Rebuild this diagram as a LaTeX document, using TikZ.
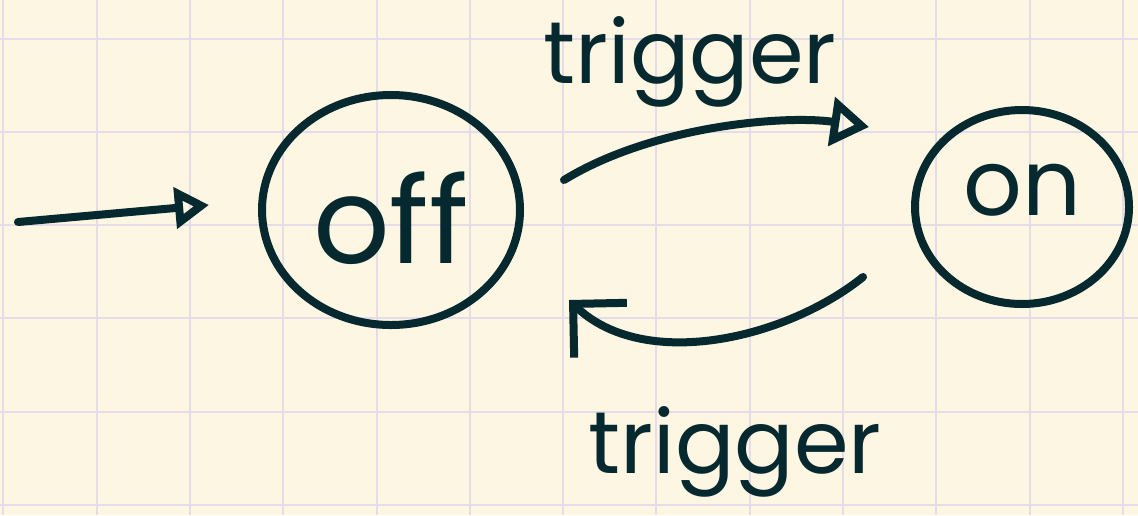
\documentclass[tikz,border=0pt]{standalone}
\usepackage{xcolor}
\usepackage{fontspec}
\setmainfont{Poppins}
\definecolor{paperBg}{HTML}{FDF6E3}
\definecolor{paperGrid}{HTML}{E4DCE8}
\definecolor{inkDark}{HTML}{05292F}
\usetikzlibrary{arrows.meta,shapes.geometric}
\tikzset{
  ink/.style={draw=inkDark, line width=4pt, line cap=round, line join=round},
  state/.style={ink, ellipse, inner sep=0pt, text=inkDark},
  hand/.style={text=inkDark, font=\fontsize{44}{48}\selectfont},
}

\begin{document}
\begin{tikzpicture}[x=0.5pt, y=-0.5pt]
  \fill[paperBg] (0,0) rectangle (1138,515);
  \useasboundingbox (0,0) rectangle (1138,515);
  % grid paper
  \foreach \gx in {0,...,12}
    \draw[paperGrid, line width=1pt] ({3.3+93.3*\gx},0) -- ({3.3+93.3*\gx},515);
  \foreach \gy in {0,...,5}
    \draw[paperGrid, line width=1pt] (0,{38.5+93.3*\gy}) -- (1138,{38.5+93.3*\gy});
  % states
  \node[state, minimum width=129pt, minimum height=115pt, text height=54pt, font=\fontsize{60}{64}\selectfont] (off) at (391,210) {off};
  \node[state, minimum width=107pt, minimum height=97pt, text depth=17pt, font=\fontsize{46}{50}\selectfont] (on) at (1022,207) {on};
  \coordinate (entry) at (18,222);
  \draw[ink, -{Triangle[open, length=17pt, width=20pt]}] (entry) -- ([shift={(-49,-5)}]off.west);
  % transitions
  \draw[ink, -{Triangle[open, length=19pt, width=24pt]}] ([shift={(40,-30)}]off.east)
    .. controls +(90,-55) and +(-83,-12) .. ([shift={(-42,-80)}]on.west);
  \draw[ink, -{Straight Barb[length=19pt, width=38pt]}] ([shift={(-48,70)}]on.west)
    .. controls +(-77,62) and +(75,72) .. ([shift={(45,90)}]off.east);
  \node[hand] (trigTop) at (690,62) {trigger};
  \node[hand] (trigBot) at (735,452) {trigger};
\end{tikzpicture}
\end{document}
